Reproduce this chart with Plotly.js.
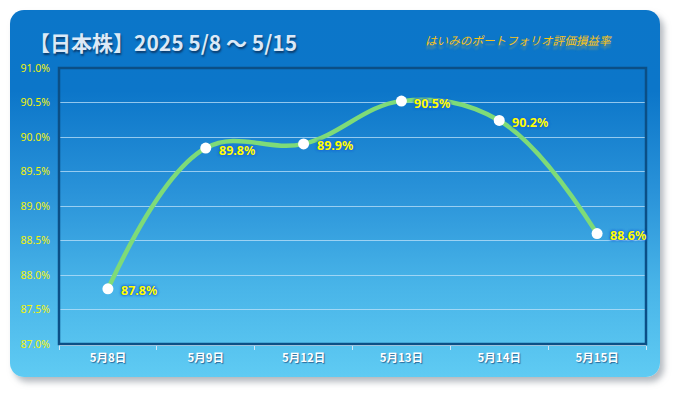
<!DOCTYPE html>
<html>
<head>
<meta charset="utf-8">
<script src="https://cdn.plot.ly/plotly-3.0.1.min.js"></script>
<style>
  html, body { margin:0; padding:0; background:#ffffff; }
  #wrap { position:relative; width:675px; height:393px; overflow:hidden; }
  #box { position:absolute; left:10px; top:10px; width:650px; height:367px; border-radius:14px;
         background: linear-gradient(to bottom, #0b76c9 0%, #0c76c9 22%, #2a93d9 50%, #48b4e8 75%, #5fcbf3 100%);
         box-shadow: 4px 5px 6px rgba(120,130,140,0.55); }
  #chart { position:absolute; left:0; top:0; width:675px; height:393px; }
</style>
</head>
<body>
<div id="wrap">
  <div id="box"></div>
  <div id="chart"></div>
</div>
<script>
const categories = ["5月8日", "5月9日", "5月12日", "5月13日", "5月14日", "5月15日"];
const values = [87.8, 89.84, 89.9, 90.52, 90.24, 88.6];
const yTickValues = [87.0, 87.5, 88.0, 88.5, 89.0, 89.5, 90.0, 90.5, 91.0];
const titleText = "【日本株】2025 5/8 ～ 5/15";
const subtitleText = "はいみのポートフォリオ評価損益率";

const labels = values.map(v => v.toFixed(1) + "%");

const line = {
  x: categories, y: values, type: "scatter", mode: "lines",
  line: { shape: "spline", smoothing: 1.1, color: "#7edb78", width: 4.5 },
  hoverinfo: "skip"
};
const pts = {
  x: categories, y: values, type: "scatter", mode: "markers",
  marker: { color: "#ffffff", size: 11, line: { width: 0 } },
  cliponaxis: false
};

const labelFont = { family: "Noto Sans, sans-serif", size: 12.5, color: "#ffff00", weight: "bold",
                    shadow: "0 0 3px #1c66d6, 0 0 3px #1c66d6, 0 0 2px #1c66d6" };
const labelAnns = categories.map((c, i) => ({
  x: c, y: values[i], xref: "x", yref: "y", text: labels[i], showarrow: false,
  xanchor: "left", yanchor: "middle", xshift: 11, yshift: -2, font: labelFont
}));

const layout = {
  width: 675, height: 393,
  paper_bgcolor: "rgba(0,0,0,0)", plot_bgcolor: "rgba(0,0,0,0)",
  margin: { l: 59, r: 29, t: 68, b: 49 },
  showlegend: false,
  xaxis: {
    type: "category", range: [-0.5, 5.5], tickson: "boundaries",
    showgrid: false, zeroline: false, fixedrange: true,
    showline: true, linecolor: "#cfe8f8", linewidth: 2,
    ticks: "outside", ticklen: 4, tickcolor: "#d0e8f8", tickwidth: 1,
    ticklabelstandoff: 2,
    tickfont: { family: "Noto Sans CJK JP, sans-serif", size: 11.5, color: "#ffffff", weight: "bold",
                shadow: "1px 1px 1px #2a6a9a" }
  },
  yaxis: {
    range: [87.0, 91.0], tickmode: "array", tickvals: yTickValues,
    ticktext: yTickValues.map(v => v.toFixed(1) + "%"),
    showgrid: true, gridcolor: "rgba(190,225,250,0.75)", gridwidth: 1,
    zeroline: false, showline: false, ticks: "", fixedrange: true,
    tickfont: { family: "Noto Sans, sans-serif", size: 10.5, color: "#f2f20a" },
    ticklabelstandoff: 8
  },
  shapes: [
    { type: "rect", xref: "paper", yref: "paper", x0: 0, x1: 1, y0: 0, y1: 1,
      line: { color: "#0b4f86", width: 2.5 }, layer: "above" }
  ],
  annotations: labelAnns.concat([
    { xref: "paper", yref: "paper", x: -0.054, y: 1.094, xanchor: "left", yanchor: "middle",
      text: titleText, showarrow: false,
      font: { family: "Noto Sans CJK JP, sans-serif", size: 21, color: "#dbe9f7", weight: "bold",
              shadow: "1px 2px 2px #0a3c6e" } },
    { xref: "paper", yref: "paper", x: 0.945, y: 1.10, xanchor: "right", yanchor: "middle",
      text: "<i>" + subtitleText + "</i>", showarrow: false,
      font: { family: "Noto Sans CJK JP, sans-serif", size: 11.6, color: "#f7c21a",
              shadow: "0 4px 2px rgba(240,190,40,0.35)" } }
  ])
};

Plotly.newPlot("chart", [line, pts], layout, { displayModeBar: false, staticPlot: true });
</script>
</body>
</html>
